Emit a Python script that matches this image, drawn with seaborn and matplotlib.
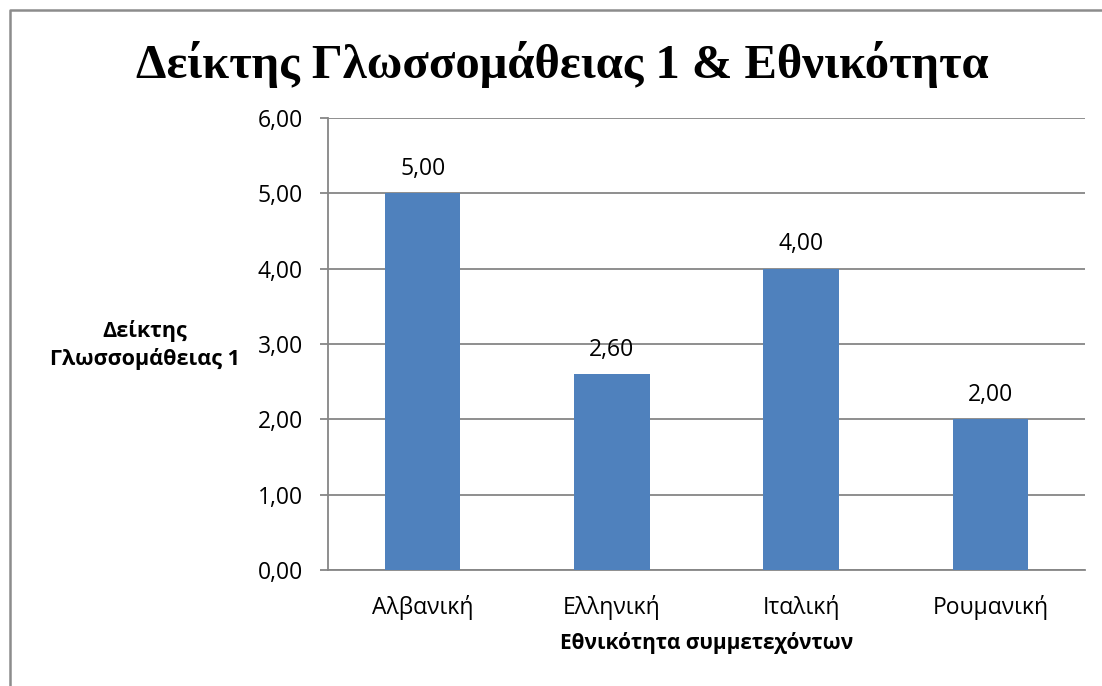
import matplotlib
matplotlib.use("Agg")
import matplotlib.pyplot as plt
from matplotlib.lines import Line2D
import seaborn as sns
import pandas as pd

# Chart data
categories = ["Αλβανική", "Ελληνική", "Ιταλική", "Ρουμανική"]
values = [5.00, 2.60, 4.00, 2.00]
y_ticks = [0, 1, 2, 3, 4, 5, 6]

title_text = "Δείκτης Γλωσσομάθειας 1 & Εθνικότητα"
x_label = "Εθνικότητα συμμετεχόντων"
y_label = "Δείκτης\nΓλωσσομάθειας 1"

sns.set_theme(style="white")
plt.rcParams["font.family"] = ["Open Sans", "DejaVu Sans"]
plt.rcParams["text.color"] = "black"
plt.rcParams["xtick.color"] = "black"
plt.rcParams["ytick.color"] = "black"
plt.rcParams["axes.labelcolor"] = "black"

W, H = 1102, 686
fig = plt.figure(figsize=(W / 100, H / 100), dpi=100)
fig.patch.set_facecolor("white")

# Plot area in pixel coordinates
left_px, right_px, top_px, bottom_px = 328, 1085, 118, 570
ax = fig.add_axes([left_px / W, 1 - bottom_px / H,
                   (right_px - left_px) / W, (bottom_px - top_px) / H])

df = pd.DataFrame({"cat": categories, "val": values})
grid_col = "#868686"
bar_col = "#4F81BD"
tick_fs = 16.5

sns.barplot(data=df, x="cat", y="val", color=bar_col, width=0.4,
            saturation=1, linewidth=0, ax=ax, zorder=3)

ax.set_xlim(-0.5, len(categories) - 0.5)
ax.set_ylim(0, 6)
ax.set_yticks(y_ticks)
ax.set_yticklabels([f"{t:.2f}".replace(".", ",") for t in y_ticks], fontsize=tick_fs)
ax.yaxis.grid(True, color=grid_col, linewidth=1.3, zorder=0)
ax.set_axisbelow(True)

# Category labels, tick marks at category boundaries
ax.set_xticks(range(len(categories)))
ax.set_xticklabels(categories, fontsize=tick_fs)
ax.set_xticks([i - 0.5 for i in range(len(categories) + 1)], minor=True)
ax.tick_params(axis="x", which="major", length=0, pad=18)
ax.tick_params(axis="x", which="minor", length=6, width=1.3, color=grid_col, direction="out")
ax.tick_params(axis="y", length=6, width=1.3, color=grid_col, labelcolor="black",
               direction="out", left=True, pad=12)

for side in ["top", "right"]:
    ax.spines[side].set_visible(False)
for side in ["left", "bottom"]:
    ax.spines[side].set_color(grid_col)
    ax.spines[side].set_linewidth(1.3)

# Value labels
for cont in ax.containers:
    ax.bar_label(cont, labels=[f"{v:.2f}".replace(".", ",") for v in values],
                 padding=9, fontsize=tick_fs, color="black")

ax.set_xlabel(x_label, fontsize=15, fontweight="bold", labelpad=9, color="black")
ax.set_ylabel(y_label, fontsize=15.5, fontweight="bold", rotation=0, color="black",
              ha="center", va="center", multialignment="center", linespacing=1.35)
ax.yaxis.set_label_coords((145 - left_px) / (right_px - left_px),
                          (bottom_px - 345) / (bottom_px - top_px))

fig.text(562 / W, 1 - 65 / H, title_text, ha="center", va="center", color="black",
         fontsize=35, fontweight="bold", family=["Liberation Serif", "DejaVu Serif"])

# Outer chart frame
fig.add_artist(Line2D([9.5 / W, 9.5 / W, 1.0], [0.0, 1 - 9.5 / H, 1 - 9.5 / H],
                      transform=fig.transFigure, color="#8C8C8C", linewidth=1.8))

fig.savefig("out.png", dpi=100, facecolor="white")
